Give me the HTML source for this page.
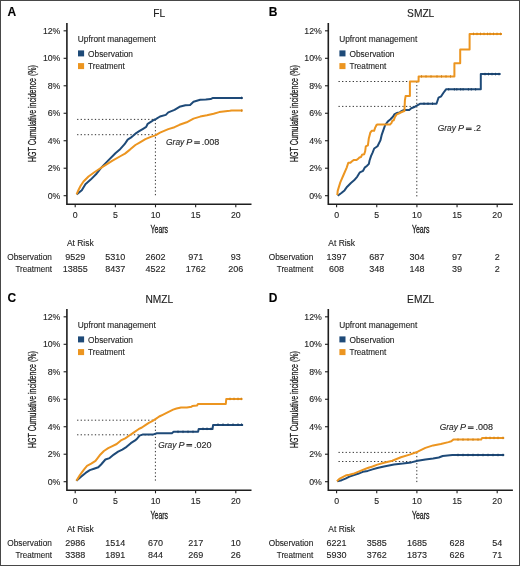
<!DOCTYPE html>
<html><head><meta charset="utf-8"><style>
html,body{margin:0;padding:0;background:#fff;}
svg{display:block;will-change:transform;}
text{font-family:"Liberation Sans", sans-serif;stroke:#242424;stroke-width:0.12px;}
</style></head><body>
<svg width="520" height="566" viewBox="0 0 520 566">
<rect x="0" y="0" width="520" height="566" fill="#fff"/>
<g transform="translate(0,0)">
<text x="7.40" y="15.90" font-size="12" text-anchor="start" fill="#000" font-weight="bold" font-style="normal">A</text>
<text x="159.30" y="16.80" font-size="10.2" text-anchor="middle" fill="#1a1a1a" font-weight="normal" font-style="normal">FL</text>
<path d="M66.9 23 V204.2 H251.5" fill="none" stroke="#1e1e1e" stroke-width="1.6"/>
<path d="M63.6 195.70 H66.9" stroke="#1e1e1e" stroke-width="1.1"/>
<text x="60.40" y="198.75" font-size="8.75" text-anchor="end" fill="#242424" font-weight="normal" font-style="normal">0%</text>
<path d="M63.6 168.22 H66.9" stroke="#1e1e1e" stroke-width="1.1"/>
<text x="60.40" y="171.27" font-size="8.75" text-anchor="end" fill="#242424" font-weight="normal" font-style="normal">2%</text>
<path d="M63.6 140.74 H66.9" stroke="#1e1e1e" stroke-width="1.1"/>
<text x="60.40" y="143.79" font-size="8.75" text-anchor="end" fill="#242424" font-weight="normal" font-style="normal">4%</text>
<path d="M63.6 113.26 H66.9" stroke="#1e1e1e" stroke-width="1.1"/>
<text x="60.40" y="116.31" font-size="8.75" text-anchor="end" fill="#242424" font-weight="normal" font-style="normal">6%</text>
<path d="M63.6 85.78 H66.9" stroke="#1e1e1e" stroke-width="1.1"/>
<text x="60.40" y="88.83" font-size="8.75" text-anchor="end" fill="#242424" font-weight="normal" font-style="normal">8%</text>
<path d="M63.6 58.30 H66.9" stroke="#1e1e1e" stroke-width="1.1"/>
<text x="60.40" y="61.35" font-size="8.75" text-anchor="end" fill="#242424" font-weight="normal" font-style="normal">10%</text>
<path d="M63.6 30.82 H66.9" stroke="#1e1e1e" stroke-width="1.1"/>
<text x="60.40" y="33.87" font-size="8.75" text-anchor="end" fill="#242424" font-weight="normal" font-style="normal">12%</text>
<path d="M75.20 204.2 V207.3" stroke="#1e1e1e" stroke-width="1.1"/>
<text x="75.20" y="218.40" font-size="8.75" text-anchor="middle" fill="#242424" font-weight="normal" font-style="normal">0</text>
<path d="M115.35 204.2 V207.3" stroke="#1e1e1e" stroke-width="1.1"/>
<text x="115.35" y="218.40" font-size="8.75" text-anchor="middle" fill="#242424" font-weight="normal" font-style="normal">5</text>
<path d="M155.50 204.2 V207.3" stroke="#1e1e1e" stroke-width="1.1"/>
<text x="155.50" y="218.40" font-size="8.75" text-anchor="middle" fill="#242424" font-weight="normal" font-style="normal">10</text>
<path d="M195.65 204.2 V207.3" stroke="#1e1e1e" stroke-width="1.1"/>
<text x="195.65" y="218.40" font-size="8.75" text-anchor="middle" fill="#242424" font-weight="normal" font-style="normal">15</text>
<path d="M235.80 204.2 V207.3" stroke="#1e1e1e" stroke-width="1.1"/>
<text x="235.80" y="218.40" font-size="8.75" text-anchor="middle" fill="#242424" font-weight="normal" font-style="normal">20</text>
<text x="159.30" y="232.70" font-size="10.6" text-anchor="middle" fill="#1a1a1a" font-weight="normal" font-style="normal" textLength="17.6" lengthAdjust="spacingAndGlyphs" style="stroke:#1a1a1a;stroke-width:0.3px">Years</text>
<text transform="translate(36.2,113.6) rotate(-90)" x="0" y="0" font-size="10.4" text-anchor="middle" fill="#1a1a1a" style="stroke:#1a1a1a;stroke-width:0.28px" textLength="97" lengthAdjust="spacingAndGlyphs">HGT Cumulative incidence (%)</text>
<text x="77.80" y="41.60" font-size="8.4" text-anchor="start" fill="#242424" font-weight="normal" font-style="normal" textLength="78" lengthAdjust="spacingAndGlyphs">Upfront management</text>
<rect x="78" y="50.4" width="6.1" height="6" fill="#1e4a78"/>
<rect x="78" y="63.1" width="6.1" height="6" fill="#ec9520"/>
<text x="88.10" y="56.60" font-size="8.4" text-anchor="start" fill="#242424" font-weight="normal" font-style="normal" textLength="44.9" lengthAdjust="spacingAndGlyphs">Observation</text>
<text x="88.10" y="68.90" font-size="8.4" text-anchor="start" fill="#242424" font-weight="normal" font-style="normal" textLength="36.7" lengthAdjust="spacingAndGlyphs">Treatment</text>
<path d="M77.1 119.40 H155.4 M77.1 134.70 H155.4 M155.4 119.40 V196.4" fill="none" stroke="#333" stroke-width="1" stroke-dasharray="1.3 2.25"/>
<polyline points="76.6,194.4 81.8,190.2 85.4,184.2 90.7,179.6 96.0,174.3 101.3,167.6 108.3,160.4 115.4,153.3 119.5,149.8 124.6,144.2 127.7,139.6 130.8,137.7 133.1,135.8 136.2,133.1 139.2,131.2 143.1,128.8 146.2,126.9 147.7,123.8 150.8,121.9 153.8,120.0 156.2,118.8 160.0,116.5 165.8,114.9 168.3,112.4 174.5,109.9 179.5,106.8 185.4,105.2 190.1,104.9 193.5,101.8 200.2,99.8 205.8,99.6 210.6,99.1 213.0,97.9 242.8,97.9" fill="none" stroke="#1e4a78" stroke-width="2.0" stroke-linejoin="round" stroke-linecap="butt"/>
<polyline points="76.6,194.4 78.5,190.0 80.5,186.0 83.5,181.5 88.5,176.5 94.0,172.5 98.5,169.5 103.4,166.3 112.1,160.9 120.7,156.0 125.0,153.6 130.0,149.6 135.4,145.0 140.0,142.3 145.4,139.2 150.8,136.9 155.4,135.4 160.0,132.7 168.3,129.1 174.5,127.2 179.5,124.8 186.7,122.3 193.5,118.6 200.2,116.6 206.9,115.3 213.6,113.7 219.2,112.1 229.8,110.7 231.7,110.4 242.8,110.6" fill="none" stroke="#ec9520" stroke-width="2.0" stroke-linejoin="round" stroke-linecap="butt"/>
<text x="166.10" y="144.80" font-size="9" text-anchor="start" fill="#242424" font-weight="normal" font-style="italic" textLength="18.2" lengthAdjust="spacingAndGlyphs">Gray</text>
<text x="186.30" y="144.80" font-size="9" text-anchor="start" fill="#242424" font-weight="normal" font-style="italic">P</text>
<rect x="194.20" y="141.35" width="5.7" height="0.95" fill="#242424"/>
<rect x="194.20" y="142.80" width="5.7" height="0.95" fill="#242424"/>
<text x="201.70" y="144.80" font-size="9" text-anchor="start" fill="#242424" font-weight="normal" font-style="normal">.008</text>
<text x="66.90" y="246.20" font-size="8.4" text-anchor="start" fill="#242424" font-weight="normal" font-style="normal" textLength="26.8" lengthAdjust="spacingAndGlyphs">At Risk</text>
<text x="51.90" y="259.50" font-size="8.4" text-anchor="end" fill="#242424" font-weight="normal" font-style="normal" textLength="44.6" lengthAdjust="spacingAndGlyphs">Observation</text>
<text x="51.90" y="272.40" font-size="8.4" text-anchor="end" fill="#242424" font-weight="normal" font-style="normal" textLength="36.5" lengthAdjust="spacingAndGlyphs">Treatment</text>
<text x="75.20" y="259.50" font-size="9.0" text-anchor="middle" fill="#242424" font-weight="normal" font-style="normal">9529</text>
<text x="75.20" y="272.40" font-size="9.0" text-anchor="middle" fill="#242424" font-weight="normal" font-style="normal">13855</text>
<text x="115.35" y="259.50" font-size="9.0" text-anchor="middle" fill="#242424" font-weight="normal" font-style="normal">5310</text>
<text x="115.35" y="272.40" font-size="9.0" text-anchor="middle" fill="#242424" font-weight="normal" font-style="normal">8437</text>
<text x="155.50" y="259.50" font-size="9.0" text-anchor="middle" fill="#242424" font-weight="normal" font-style="normal">2602</text>
<text x="155.50" y="272.40" font-size="9.0" text-anchor="middle" fill="#242424" font-weight="normal" font-style="normal">4522</text>
<text x="195.65" y="259.50" font-size="9.0" text-anchor="middle" fill="#242424" font-weight="normal" font-style="normal">971</text>
<text x="195.65" y="272.40" font-size="9.0" text-anchor="middle" fill="#242424" font-weight="normal" font-style="normal">1762</text>
<text x="235.80" y="259.50" font-size="9.0" text-anchor="middle" fill="#242424" font-weight="normal" font-style="normal">93</text>
<text x="235.80" y="272.40" font-size="9.0" text-anchor="middle" fill="#242424" font-weight="normal" font-style="normal">206</text>
</g>
<g transform="translate(261.4,0)">
<text x="7.40" y="15.90" font-size="12" text-anchor="start" fill="#000" font-weight="bold" font-style="normal">B</text>
<text x="159.30" y="16.80" font-size="10.2" text-anchor="middle" fill="#1a1a1a" font-weight="normal" font-style="normal">SMZL</text>
<path d="M66.9 23 V204.2 H251.5" fill="none" stroke="#1e1e1e" stroke-width="1.6"/>
<path d="M63.6 195.70 H66.9" stroke="#1e1e1e" stroke-width="1.1"/>
<text x="60.40" y="198.75" font-size="8.75" text-anchor="end" fill="#242424" font-weight="normal" font-style="normal">0%</text>
<path d="M63.6 168.22 H66.9" stroke="#1e1e1e" stroke-width="1.1"/>
<text x="60.40" y="171.27" font-size="8.75" text-anchor="end" fill="#242424" font-weight="normal" font-style="normal">2%</text>
<path d="M63.6 140.74 H66.9" stroke="#1e1e1e" stroke-width="1.1"/>
<text x="60.40" y="143.79" font-size="8.75" text-anchor="end" fill="#242424" font-weight="normal" font-style="normal">4%</text>
<path d="M63.6 113.26 H66.9" stroke="#1e1e1e" stroke-width="1.1"/>
<text x="60.40" y="116.31" font-size="8.75" text-anchor="end" fill="#242424" font-weight="normal" font-style="normal">6%</text>
<path d="M63.6 85.78 H66.9" stroke="#1e1e1e" stroke-width="1.1"/>
<text x="60.40" y="88.83" font-size="8.75" text-anchor="end" fill="#242424" font-weight="normal" font-style="normal">8%</text>
<path d="M63.6 58.30 H66.9" stroke="#1e1e1e" stroke-width="1.1"/>
<text x="60.40" y="61.35" font-size="8.75" text-anchor="end" fill="#242424" font-weight="normal" font-style="normal">10%</text>
<path d="M63.6 30.82 H66.9" stroke="#1e1e1e" stroke-width="1.1"/>
<text x="60.40" y="33.87" font-size="8.75" text-anchor="end" fill="#242424" font-weight="normal" font-style="normal">12%</text>
<path d="M75.20 204.2 V207.3" stroke="#1e1e1e" stroke-width="1.1"/>
<text x="75.20" y="218.40" font-size="8.75" text-anchor="middle" fill="#242424" font-weight="normal" font-style="normal">0</text>
<path d="M115.35 204.2 V207.3" stroke="#1e1e1e" stroke-width="1.1"/>
<text x="115.35" y="218.40" font-size="8.75" text-anchor="middle" fill="#242424" font-weight="normal" font-style="normal">5</text>
<path d="M155.50 204.2 V207.3" stroke="#1e1e1e" stroke-width="1.1"/>
<text x="155.50" y="218.40" font-size="8.75" text-anchor="middle" fill="#242424" font-weight="normal" font-style="normal">10</text>
<path d="M195.65 204.2 V207.3" stroke="#1e1e1e" stroke-width="1.1"/>
<text x="195.65" y="218.40" font-size="8.75" text-anchor="middle" fill="#242424" font-weight="normal" font-style="normal">15</text>
<path d="M235.80 204.2 V207.3" stroke="#1e1e1e" stroke-width="1.1"/>
<text x="235.80" y="218.40" font-size="8.75" text-anchor="middle" fill="#242424" font-weight="normal" font-style="normal">20</text>
<text x="159.30" y="232.70" font-size="10.6" text-anchor="middle" fill="#1a1a1a" font-weight="normal" font-style="normal" textLength="17.6" lengthAdjust="spacingAndGlyphs" style="stroke:#1a1a1a;stroke-width:0.3px">Years</text>
<text transform="translate(36.2,113.6) rotate(-90)" x="0" y="0" font-size="10.4" text-anchor="middle" fill="#1a1a1a" style="stroke:#1a1a1a;stroke-width:0.28px" textLength="97" lengthAdjust="spacingAndGlyphs">HGT Cumulative incidence (%)</text>
<text x="77.80" y="41.60" font-size="8.4" text-anchor="start" fill="#242424" font-weight="normal" font-style="normal" textLength="78" lengthAdjust="spacingAndGlyphs">Upfront management</text>
<rect x="78" y="50.4" width="6.1" height="6" fill="#1e4a78"/>
<rect x="78" y="63.1" width="6.1" height="6" fill="#ec9520"/>
<text x="88.10" y="56.60" font-size="8.4" text-anchor="start" fill="#242424" font-weight="normal" font-style="normal" textLength="44.9" lengthAdjust="spacingAndGlyphs">Observation</text>
<text x="88.10" y="68.90" font-size="8.4" text-anchor="start" fill="#242424" font-weight="normal" font-style="normal" textLength="36.7" lengthAdjust="spacingAndGlyphs">Treatment</text>
<path d="M77.1 81.50 H155.4 M77.1 106.40 H155.4 M155.4 81.50 V196.4" fill="none" stroke="#333" stroke-width="1" stroke-dasharray="1.3 2.25"/>
<polyline points="76.3,195.7 80.0,193.0 83.1,190.4 85.8,186.7 89.5,183.0 92.7,180.3 95.9,176.6 98.5,172.3 101.7,170.8 103.3,167.6 105.4,166.0 107.5,163.9 108.1,160.7 109.7,155.9 111.2,152.7 112.8,148.5 116.1,146.2 119.0,140.4 120.4,134.6 122.4,128.8 123.8,125.0 126.7,121.2 129.1,119.2 131.5,116.8 132.9,114.4 135.3,113.0 138.2,112.5 140.1,111.1 142.1,110.1 147.8,110.1 149.8,108.2 153.6,106.7 159.0,103.7 175.1,103.7 177.1,97.7 179.8,96.3 181.9,93.0 184.6,89.3 219.4,89.3 219.4,74.1 239.2,74.1" fill="none" stroke="#1e4a78" stroke-width="2.0" stroke-linejoin="round" stroke-linecap="butt"/>
<polyline points="75.9,195.1 76.3,190.9 78.9,182.4 82.1,175.0 85.3,167.6 86.9,162.8 89.0,162.8 90.6,161.2 92.2,160.1 94.8,160.1 96.4,159.1 98.0,157.5 99.6,157.0 100.6,154.8 102.8,154.3 103.8,151.1 104.4,146.4 106.5,145.3 107.4,138.5 108.9,132.7 110.3,130.8 112.7,130.8 113.7,127.9 115.1,125.0 116.1,124.5 128.6,124.5 130.0,123.1 131.0,120.7 132.4,120.2 133.4,117.3 135.3,114.4 137.3,113.5 139.2,112.5 141.6,111.5 143.0,111.1 143.5,100.4 144.2,96.1 148.5,96.1 148.5,81.5 157.2,81.5 157.2,76.4 193.0,76.4 193.0,63.3 198.8,63.3 198.8,49.6 208.2,49.6 208.2,33.9 240.6,33.9" fill="none" stroke="#ec9520" stroke-width="2.0" stroke-linejoin="round" stroke-linecap="butt"/>
<text x="176.40" y="131.10" font-size="9" text-anchor="start" fill="#242424" font-weight="normal" font-style="italic" textLength="18.2" lengthAdjust="spacingAndGlyphs">Gray</text>
<text x="196.60" y="131.10" font-size="9" text-anchor="start" fill="#242424" font-weight="normal" font-style="italic">P</text>
<rect x="204.50" y="127.65" width="5.7" height="0.95" fill="#242424"/>
<rect x="204.50" y="129.10" width="5.7" height="0.95" fill="#242424"/>
<text x="212.00" y="131.10" font-size="9" text-anchor="start" fill="#242424" font-weight="normal" font-style="normal">.2</text>
<text x="66.90" y="246.20" font-size="8.4" text-anchor="start" fill="#242424" font-weight="normal" font-style="normal" textLength="26.8" lengthAdjust="spacingAndGlyphs">At Risk</text>
<text x="51.90" y="259.50" font-size="8.4" text-anchor="end" fill="#242424" font-weight="normal" font-style="normal" textLength="44.6" lengthAdjust="spacingAndGlyphs">Observation</text>
<text x="51.90" y="272.40" font-size="8.4" text-anchor="end" fill="#242424" font-weight="normal" font-style="normal" textLength="36.5" lengthAdjust="spacingAndGlyphs">Treatment</text>
<text x="75.20" y="259.50" font-size="9.0" text-anchor="middle" fill="#242424" font-weight="normal" font-style="normal">1397</text>
<text x="75.20" y="272.40" font-size="9.0" text-anchor="middle" fill="#242424" font-weight="normal" font-style="normal">608</text>
<text x="115.35" y="259.50" font-size="9.0" text-anchor="middle" fill="#242424" font-weight="normal" font-style="normal">687</text>
<text x="115.35" y="272.40" font-size="9.0" text-anchor="middle" fill="#242424" font-weight="normal" font-style="normal">348</text>
<text x="155.50" y="259.50" font-size="9.0" text-anchor="middle" fill="#242424" font-weight="normal" font-style="normal">304</text>
<text x="155.50" y="272.40" font-size="9.0" text-anchor="middle" fill="#242424" font-weight="normal" font-style="normal">148</text>
<text x="195.65" y="259.50" font-size="9.0" text-anchor="middle" fill="#242424" font-weight="normal" font-style="normal">97</text>
<text x="195.65" y="272.40" font-size="9.0" text-anchor="middle" fill="#242424" font-weight="normal" font-style="normal">39</text>
<text x="235.80" y="259.50" font-size="9.0" text-anchor="middle" fill="#242424" font-weight="normal" font-style="normal">2</text>
<text x="235.80" y="272.40" font-size="9.0" text-anchor="middle" fill="#242424" font-weight="normal" font-style="normal">2</text>
</g>
<g transform="translate(0,286.0)">
<text x="7.40" y="15.90" font-size="12" text-anchor="start" fill="#000" font-weight="bold" font-style="normal">C</text>
<text x="159.30" y="16.80" font-size="10.2" text-anchor="middle" fill="#1a1a1a" font-weight="normal" font-style="normal">NMZL</text>
<path d="M66.9 23 V204.2 H251.5" fill="none" stroke="#1e1e1e" stroke-width="1.6"/>
<path d="M63.6 195.70 H66.9" stroke="#1e1e1e" stroke-width="1.1"/>
<text x="60.40" y="198.75" font-size="8.75" text-anchor="end" fill="#242424" font-weight="normal" font-style="normal">0%</text>
<path d="M63.6 168.22 H66.9" stroke="#1e1e1e" stroke-width="1.1"/>
<text x="60.40" y="171.27" font-size="8.75" text-anchor="end" fill="#242424" font-weight="normal" font-style="normal">2%</text>
<path d="M63.6 140.74 H66.9" stroke="#1e1e1e" stroke-width="1.1"/>
<text x="60.40" y="143.79" font-size="8.75" text-anchor="end" fill="#242424" font-weight="normal" font-style="normal">4%</text>
<path d="M63.6 113.26 H66.9" stroke="#1e1e1e" stroke-width="1.1"/>
<text x="60.40" y="116.31" font-size="8.75" text-anchor="end" fill="#242424" font-weight="normal" font-style="normal">6%</text>
<path d="M63.6 85.78 H66.9" stroke="#1e1e1e" stroke-width="1.1"/>
<text x="60.40" y="88.83" font-size="8.75" text-anchor="end" fill="#242424" font-weight="normal" font-style="normal">8%</text>
<path d="M63.6 58.30 H66.9" stroke="#1e1e1e" stroke-width="1.1"/>
<text x="60.40" y="61.35" font-size="8.75" text-anchor="end" fill="#242424" font-weight="normal" font-style="normal">10%</text>
<path d="M63.6 30.82 H66.9" stroke="#1e1e1e" stroke-width="1.1"/>
<text x="60.40" y="33.87" font-size="8.75" text-anchor="end" fill="#242424" font-weight="normal" font-style="normal">12%</text>
<path d="M75.20 204.2 V207.3" stroke="#1e1e1e" stroke-width="1.1"/>
<text x="75.20" y="218.40" font-size="8.75" text-anchor="middle" fill="#242424" font-weight="normal" font-style="normal">0</text>
<path d="M115.35 204.2 V207.3" stroke="#1e1e1e" stroke-width="1.1"/>
<text x="115.35" y="218.40" font-size="8.75" text-anchor="middle" fill="#242424" font-weight="normal" font-style="normal">5</text>
<path d="M155.50 204.2 V207.3" stroke="#1e1e1e" stroke-width="1.1"/>
<text x="155.50" y="218.40" font-size="8.75" text-anchor="middle" fill="#242424" font-weight="normal" font-style="normal">10</text>
<path d="M195.65 204.2 V207.3" stroke="#1e1e1e" stroke-width="1.1"/>
<text x="195.65" y="218.40" font-size="8.75" text-anchor="middle" fill="#242424" font-weight="normal" font-style="normal">15</text>
<path d="M235.80 204.2 V207.3" stroke="#1e1e1e" stroke-width="1.1"/>
<text x="235.80" y="218.40" font-size="8.75" text-anchor="middle" fill="#242424" font-weight="normal" font-style="normal">20</text>
<text x="159.30" y="232.70" font-size="10.6" text-anchor="middle" fill="#1a1a1a" font-weight="normal" font-style="normal" textLength="17.6" lengthAdjust="spacingAndGlyphs" style="stroke:#1a1a1a;stroke-width:0.3px">Years</text>
<text transform="translate(36.2,113.6) rotate(-90)" x="0" y="0" font-size="10.4" text-anchor="middle" fill="#1a1a1a" style="stroke:#1a1a1a;stroke-width:0.28px" textLength="97" lengthAdjust="spacingAndGlyphs">HGT Cumulative incidence (%)</text>
<text x="77.80" y="41.60" font-size="8.4" text-anchor="start" fill="#242424" font-weight="normal" font-style="normal" textLength="78" lengthAdjust="spacingAndGlyphs">Upfront management</text>
<rect x="78" y="50.4" width="6.1" height="6" fill="#1e4a78"/>
<rect x="78" y="63.1" width="6.1" height="6" fill="#ec9520"/>
<text x="88.10" y="56.60" font-size="8.4" text-anchor="start" fill="#242424" font-weight="normal" font-style="normal" textLength="44.9" lengthAdjust="spacingAndGlyphs">Observation</text>
<text x="88.10" y="68.90" font-size="8.4" text-anchor="start" fill="#242424" font-weight="normal" font-style="normal" textLength="36.7" lengthAdjust="spacingAndGlyphs">Treatment</text>
<path d="M77.1 134.20 H155.4 M77.1 148.80 H155.4 M155.4 133.00 V196.4" fill="none" stroke="#333" stroke-width="1" stroke-dasharray="1.3 2.25"/>
<polyline points="76.4,194.7 81.3,190.5 85.6,186.9 89.8,184.1 94.0,182.7 98.3,181.3 101.1,178.5 105.4,173.5 109.6,172.1 113.8,168.6 118.1,165.7 122.3,163.6 126.6,160.8 130.8,157.2 135.1,154.4 137.3,152.4 139.6,149.6 143.1,148.4 153.5,148.4 156.9,147.3 171.9,147.3 173.6,145.8 198.1,145.8 198.7,143.0 212.5,143.0 213.1,139.0 243.1,139.0" fill="none" stroke="#1e4a78" stroke-width="2.0" stroke-linejoin="round" stroke-linecap="butt"/>
<polyline points="76.4,194.7 79.9,189.1 84.1,183.4 87.0,179.9 91.2,177.7 95.5,174.9 99.7,169.3 103.9,165.0 108.2,162.2 112.4,160.1 116.7,158.0 120.9,154.4 125.2,152.3 129.4,149.5 133.6,146.6 138.5,143.2 141.9,141.5 145.4,139.2 148.8,136.9 152.3,135.1 155.8,132.8 159.2,130.5 162.7,128.8 166.1,127.1 169.6,125.3 173.1,123.6 176.5,122.5 181.1,121.5 186.9,121.5 191.5,120.7 192.3,120.0 196.9,119.6 198.1,117.9 225.8,117.9 226.3,112.9 242.5,112.9" fill="none" stroke="#ec9520" stroke-width="2.0" stroke-linejoin="round" stroke-linecap="butt"/>
<text x="158.30" y="161.50" font-size="9" text-anchor="start" fill="#242424" font-weight="normal" font-style="italic" textLength="18.2" lengthAdjust="spacingAndGlyphs">Gray</text>
<text x="178.50" y="161.50" font-size="9" text-anchor="start" fill="#242424" font-weight="normal" font-style="italic">P</text>
<rect x="186.40" y="158.05" width="5.7" height="0.95" fill="#242424"/>
<rect x="186.40" y="159.50" width="5.7" height="0.95" fill="#242424"/>
<text x="193.90" y="161.50" font-size="9" text-anchor="start" fill="#242424" font-weight="normal" font-style="normal">.020</text>
<text x="66.90" y="246.20" font-size="8.4" text-anchor="start" fill="#242424" font-weight="normal" font-style="normal" textLength="26.8" lengthAdjust="spacingAndGlyphs">At Risk</text>
<text x="51.90" y="259.50" font-size="8.4" text-anchor="end" fill="#242424" font-weight="normal" font-style="normal" textLength="44.6" lengthAdjust="spacingAndGlyphs">Observation</text>
<text x="51.90" y="272.40" font-size="8.4" text-anchor="end" fill="#242424" font-weight="normal" font-style="normal" textLength="36.5" lengthAdjust="spacingAndGlyphs">Treatment</text>
<text x="75.20" y="259.50" font-size="9.0" text-anchor="middle" fill="#242424" font-weight="normal" font-style="normal">2986</text>
<text x="75.20" y="272.40" font-size="9.0" text-anchor="middle" fill="#242424" font-weight="normal" font-style="normal">3388</text>
<text x="115.35" y="259.50" font-size="9.0" text-anchor="middle" fill="#242424" font-weight="normal" font-style="normal">1514</text>
<text x="115.35" y="272.40" font-size="9.0" text-anchor="middle" fill="#242424" font-weight="normal" font-style="normal">1891</text>
<text x="155.50" y="259.50" font-size="9.0" text-anchor="middle" fill="#242424" font-weight="normal" font-style="normal">670</text>
<text x="155.50" y="272.40" font-size="9.0" text-anchor="middle" fill="#242424" font-weight="normal" font-style="normal">844</text>
<text x="195.65" y="259.50" font-size="9.0" text-anchor="middle" fill="#242424" font-weight="normal" font-style="normal">217</text>
<text x="195.65" y="272.40" font-size="9.0" text-anchor="middle" fill="#242424" font-weight="normal" font-style="normal">269</text>
<text x="235.80" y="259.50" font-size="9.0" text-anchor="middle" fill="#242424" font-weight="normal" font-style="normal">10</text>
<text x="235.80" y="272.40" font-size="9.0" text-anchor="middle" fill="#242424" font-weight="normal" font-style="normal">26</text>
</g>
<g transform="translate(261.4,286.0)">
<text x="7.40" y="15.90" font-size="12" text-anchor="start" fill="#000" font-weight="bold" font-style="normal">D</text>
<text x="159.30" y="16.80" font-size="10.2" text-anchor="middle" fill="#1a1a1a" font-weight="normal" font-style="normal">EMZL</text>
<path d="M66.9 23 V204.2 H251.5" fill="none" stroke="#1e1e1e" stroke-width="1.6"/>
<path d="M63.6 195.70 H66.9" stroke="#1e1e1e" stroke-width="1.1"/>
<text x="60.40" y="198.75" font-size="8.75" text-anchor="end" fill="#242424" font-weight="normal" font-style="normal">0%</text>
<path d="M63.6 168.22 H66.9" stroke="#1e1e1e" stroke-width="1.1"/>
<text x="60.40" y="171.27" font-size="8.75" text-anchor="end" fill="#242424" font-weight="normal" font-style="normal">2%</text>
<path d="M63.6 140.74 H66.9" stroke="#1e1e1e" stroke-width="1.1"/>
<text x="60.40" y="143.79" font-size="8.75" text-anchor="end" fill="#242424" font-weight="normal" font-style="normal">4%</text>
<path d="M63.6 113.26 H66.9" stroke="#1e1e1e" stroke-width="1.1"/>
<text x="60.40" y="116.31" font-size="8.75" text-anchor="end" fill="#242424" font-weight="normal" font-style="normal">6%</text>
<path d="M63.6 85.78 H66.9" stroke="#1e1e1e" stroke-width="1.1"/>
<text x="60.40" y="88.83" font-size="8.75" text-anchor="end" fill="#242424" font-weight="normal" font-style="normal">8%</text>
<path d="M63.6 58.30 H66.9" stroke="#1e1e1e" stroke-width="1.1"/>
<text x="60.40" y="61.35" font-size="8.75" text-anchor="end" fill="#242424" font-weight="normal" font-style="normal">10%</text>
<path d="M63.6 30.82 H66.9" stroke="#1e1e1e" stroke-width="1.1"/>
<text x="60.40" y="33.87" font-size="8.75" text-anchor="end" fill="#242424" font-weight="normal" font-style="normal">12%</text>
<path d="M75.20 204.2 V207.3" stroke="#1e1e1e" stroke-width="1.1"/>
<text x="75.20" y="218.40" font-size="8.75" text-anchor="middle" fill="#242424" font-weight="normal" font-style="normal">0</text>
<path d="M115.35 204.2 V207.3" stroke="#1e1e1e" stroke-width="1.1"/>
<text x="115.35" y="218.40" font-size="8.75" text-anchor="middle" fill="#242424" font-weight="normal" font-style="normal">5</text>
<path d="M155.50 204.2 V207.3" stroke="#1e1e1e" stroke-width="1.1"/>
<text x="155.50" y="218.40" font-size="8.75" text-anchor="middle" fill="#242424" font-weight="normal" font-style="normal">10</text>
<path d="M195.65 204.2 V207.3" stroke="#1e1e1e" stroke-width="1.1"/>
<text x="195.65" y="218.40" font-size="8.75" text-anchor="middle" fill="#242424" font-weight="normal" font-style="normal">15</text>
<path d="M235.80 204.2 V207.3" stroke="#1e1e1e" stroke-width="1.1"/>
<text x="235.80" y="218.40" font-size="8.75" text-anchor="middle" fill="#242424" font-weight="normal" font-style="normal">20</text>
<text x="159.30" y="232.70" font-size="10.6" text-anchor="middle" fill="#1a1a1a" font-weight="normal" font-style="normal" textLength="17.6" lengthAdjust="spacingAndGlyphs" style="stroke:#1a1a1a;stroke-width:0.3px">Years</text>
<text transform="translate(36.2,113.6) rotate(-90)" x="0" y="0" font-size="10.4" text-anchor="middle" fill="#1a1a1a" style="stroke:#1a1a1a;stroke-width:0.28px" textLength="97" lengthAdjust="spacingAndGlyphs">HGT Cumulative incidence (%)</text>
<text x="77.80" y="41.60" font-size="8.4" text-anchor="start" fill="#242424" font-weight="normal" font-style="normal" textLength="78" lengthAdjust="spacingAndGlyphs">Upfront management</text>
<rect x="78" y="50.4" width="6.1" height="6" fill="#1e4a78"/>
<rect x="78" y="63.1" width="6.1" height="6" fill="#ec9520"/>
<text x="88.10" y="56.60" font-size="8.4" text-anchor="start" fill="#242424" font-weight="normal" font-style="normal" textLength="44.9" lengthAdjust="spacingAndGlyphs">Observation</text>
<text x="88.10" y="68.90" font-size="8.4" text-anchor="start" fill="#242424" font-weight="normal" font-style="normal" textLength="36.7" lengthAdjust="spacingAndGlyphs">Treatment</text>
<path d="M77.1 166.40 H155.4 M77.1 175.50 H155.4 M155.4 166.40 V196.4" fill="none" stroke="#333" stroke-width="1" stroke-dasharray="1.3 2.25"/>
<polyline points="75.8,195.4 80.3,194.2 84.1,192.6 88.0,190.6 91.8,189.2 96.6,187.8 101.4,185.8 106.3,184.9 111.1,183.4 115.9,182.0 122.6,180.5 132.6,178.6 141.3,177.6 149.9,176.4 156.3,174.8 164.0,173.4 171.7,172.5 177.4,171.5 181.3,170.0 190.9,169.0 242.8,169.0" fill="none" stroke="#1e4a78" stroke-width="2.0" stroke-linejoin="round" stroke-linecap="butt"/>
<polyline points="75.5,195.2 78.4,192.6 82.2,190.6 85.1,189.2 88.0,188.7 91.8,187.8 96.6,185.8 101.4,183.9 106.3,182.0 111.1,180.5 115.9,178.6 122.6,176.7 130.9,174.7 139.5,171.2 148.2,168.6 156.3,165.7 164.0,161.9 171.7,159.4 179.4,158.0 187.1,156.1 189.9,155.2 191.9,153.6 219.8,153.6 220.7,151.9 242.8,151.9" fill="none" stroke="#ec9520" stroke-width="2.0" stroke-linejoin="round" stroke-linecap="butt"/>
<text x="178.40" y="143.90" font-size="9" text-anchor="start" fill="#242424" font-weight="normal" font-style="italic" textLength="18.2" lengthAdjust="spacingAndGlyphs">Gray</text>
<text x="198.60" y="143.90" font-size="9" text-anchor="start" fill="#242424" font-weight="normal" font-style="italic">P</text>
<rect x="206.50" y="140.45" width="5.7" height="0.95" fill="#242424"/>
<rect x="206.50" y="141.90" width="5.7" height="0.95" fill="#242424"/>
<text x="214.00" y="143.90" font-size="9" text-anchor="start" fill="#242424" font-weight="normal" font-style="normal">.008</text>
<text x="66.90" y="246.20" font-size="8.4" text-anchor="start" fill="#242424" font-weight="normal" font-style="normal" textLength="26.8" lengthAdjust="spacingAndGlyphs">At Risk</text>
<text x="51.90" y="259.50" font-size="8.4" text-anchor="end" fill="#242424" font-weight="normal" font-style="normal" textLength="44.6" lengthAdjust="spacingAndGlyphs">Observation</text>
<text x="51.90" y="272.40" font-size="8.4" text-anchor="end" fill="#242424" font-weight="normal" font-style="normal" textLength="36.5" lengthAdjust="spacingAndGlyphs">Treatment</text>
<text x="75.20" y="259.50" font-size="9.0" text-anchor="middle" fill="#242424" font-weight="normal" font-style="normal">6221</text>
<text x="75.20" y="272.40" font-size="9.0" text-anchor="middle" fill="#242424" font-weight="normal" font-style="normal">5930</text>
<text x="115.35" y="259.50" font-size="9.0" text-anchor="middle" fill="#242424" font-weight="normal" font-style="normal">3585</text>
<text x="115.35" y="272.40" font-size="9.0" text-anchor="middle" fill="#242424" font-weight="normal" font-style="normal">3762</text>
<text x="155.50" y="259.50" font-size="9.0" text-anchor="middle" fill="#242424" font-weight="normal" font-style="normal">1685</text>
<text x="155.50" y="272.40" font-size="9.0" text-anchor="middle" fill="#242424" font-weight="normal" font-style="normal">1873</text>
<text x="195.65" y="259.50" font-size="9.0" text-anchor="middle" fill="#242424" font-weight="normal" font-style="normal">628</text>
<text x="195.65" y="272.40" font-size="9.0" text-anchor="middle" fill="#242424" font-weight="normal" font-style="normal">626</text>
<text x="235.80" y="259.50" font-size="9.0" text-anchor="middle" fill="#242424" font-weight="normal" font-style="normal">54</text>
<text x="235.80" y="272.40" font-size="9.0" text-anchor="middle" fill="#242424" font-weight="normal" font-style="normal">71</text>
</g>
<path d="M473.5 32.6v2.6 M477.0 32.6v2.6 M480.5 32.6v2.6 M484.0 32.6v2.6 M487.5 32.6v2.6 M490.0 32.6v2.6 M493.5 32.6v2.6 M497.0 32.6v2.6 M500.5 32.6v2.6" stroke="#c97d18" stroke-width="0.8" fill="none"/>
<path d="M421.5 75.1v2.6 M426.0 75.1v2.6 M431.0 75.1v2.6 M437.0 75.1v2.6 M441.5 75.1v2.6 M446.0 75.1v2.6 M450.5 75.1v2.6" stroke="#c97d18" stroke-width="0.8" fill="none"/>
<path d="M448.7 88.0v2.6 M454.4 88.0v2.6 M456.8 88.0v2.6 M460.7 88.0v2.6 M463.1 88.0v2.6 M468.4 88.0v2.6 M471.3 88.0v2.6 M475.6 88.0v2.6" stroke="#173a60" stroke-width="0.8" fill="none"/>
<path d="M485.0 72.8v2.6 M488.5 72.8v2.6 M492.0 72.8v2.6 M495.5 72.8v2.6 M499.0 72.8v2.6" stroke="#173a60" stroke-width="0.8" fill="none"/>
<path d="M424.0 102.4v2.6 M428.0 102.4v2.6 M432.5 102.4v2.6" stroke="#173a60" stroke-width="0.8" fill="none"/>
<path d="M241.6 96.6v2.6" stroke="#173a60" stroke-width="0.8" fill="none"/>
<path d="M241.6 109.3v2.6" stroke="#c97d18" stroke-width="0.8" fill="none"/>
<path d="M218.0 423.3v2.6 M223.0 423.3v2.6 M228.0 423.3v2.6 M233.0 423.3v2.6 M238.0 423.3v2.6 M241.6 423.3v2.6" stroke="#173a60" stroke-width="0.8" fill="none"/>
<path d="M230.0 397.6v2.6 M234.0 397.6v2.6 M238.0 397.6v2.6 M241.3 397.6v2.6" stroke="#c97d18" stroke-width="0.8" fill="none"/>
<path d="M203.0 427.5v2.6 M207.0 427.5v2.6 M211.0 427.5v2.6" stroke="#173a60" stroke-width="0.8" fill="none"/>
<path d="M178.0 430.5v2.6 M183.0 430.5v2.6 M188.0 430.5v2.6 M193.0 430.5v2.6" stroke="#173a60" stroke-width="0.8" fill="none"/>
<path d="M458.0 453.7v2.6 M463.0 453.7v2.6 M468.0 453.7v2.6 M473.0 453.7v2.6 M478.0 453.7v2.6 M483.0 453.7v2.6 M488.0 453.7v2.6 M493.0 453.7v2.6 M498.0 453.7v2.6 M503.0 453.7v2.6" stroke="#173a60" stroke-width="0.8" fill="none"/>
<path d="M486.0 436.6v2.6 M490.0 436.6v2.6 M494.0 436.6v2.6 M498.0 436.6v2.6 M503.0 436.6v2.6" stroke="#c97d18" stroke-width="0.8" fill="none"/>
<path d="M458.0 438.3v2.6 M463.0 438.3v2.6 M468.0 438.3v2.6 M473.0 438.3v2.6 M478.0 438.3v2.6" stroke="#c97d18" stroke-width="0.8" fill="none"/>
<rect x="0.5" y="0.5" width="519" height="565" fill="none" stroke="#474747" stroke-width="1"/>
</svg>
</body></html>
